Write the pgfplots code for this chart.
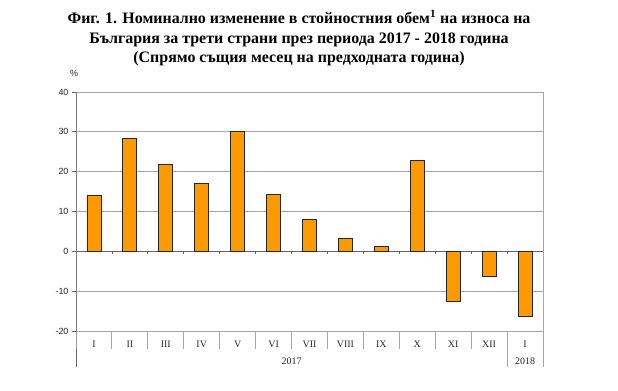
\documentclass[border=0pt]{standalone}
\usepackage{pgfplots}
\pgfplotsset{compat=1.18}
\usepackage{fontspec}
\setmainfont{Liberation Serif}
\setsansfont{Liberation Sans}
\definecolor{barorange}{HTML}{FF9900}
\definecolor{gridgray}{HTML}{A6A6A6}
\definecolor{axisgray}{HTML}{666666}
\definecolor{barline}{HTML}{262626}
\begin{document}
\begin{tikzpicture}[x=1bp,y=1bp]
\useasboundingbox (0,0) rectangle (618,390);
\node[anchor=base, font=\bfseries\fontsize{16}{18}\selectfont] at (299,366.5) {Фиг. 1. Номинално изменение в стойностния обем\textsuperscript{1} на износа на};
\node[anchor=base, font=\bfseries\fontsize{16}{18}\selectfont] at (299,346.8) {България за трети страни през периода 2017 - 2018 година};
\node[anchor=base, font=\bfseries\fontsize{16}{18}\selectfont] at (299,327.1) {(Спрямо същия месец на предходната година)};
\node[font=\sffamily\fontsize{9}{9}\selectfont, text=black!85] at (74,317) {\%};
\begin{axis}[
  at={(76bp,59bp)}, anchor=south west,
  scale only axis, width=467bp, height=239bp,
  xmin=0, xmax=13, ymin=-20, ymax=40,
  ytick={-20,-10,...,40},
  ymajorgrids,
  grid style={gridgray, line width=0.9bp},
  axis line style={gridgray, line width=0.9bp},
  xtick={0.5,1.5,...,12.5},
  xticklabels={I,II,III,IV,V,VI,VII,VIII,IX,X,XI,XII,I},
  x tick style={draw=none},
  y tick style={axisgray, line width=0.8bp},
  tick align=outside,
  major tick length=4bp,
  ytick pos=left, xtick pos=bottom,
  /pgf/number format/assume math mode=true,
  yticklabel style={font=\sffamily\fontsize{9}{9}\selectfont, text=black!85},
  xticklabel style={font=\fontsize{10}{10}\selectfont, text=black!85, yshift=-2bp},
  clip=false,
  ybar, bar width=14bp,
]
\draw[axisgray, line width=0.9bp] (axis cs:0,0) -- (axis cs:13,0);
\pgfplotsinvokeforeach{1,...,12}{
  \draw[axisgray, line width=0.8bp] (axis cs:#1,0) -- ([yshift=-3bp]axis cs:#1,0);
}
\pgfplotsinvokeforeach{1,...,11}{
  \draw[gridgray, line width=0.9bp] (axis cs:#1,-20) -- ([yshift=-18bp]axis cs:#1,-20);
}
\draw[gridgray, line width=0.9bp] (axis cs:12,-20) -- ([yshift=-36bp]axis cs:12,-20);
\draw[gridgray, line width=0.9bp] (axis cs:13,-20) -- ([yshift=-36bp]axis cs:13,-20);
\draw[axisgray, line width=0.9bp] (axis cs:0,40) -- (axis cs:0,-20) -- ([yshift=-36bp]axis cs:0,-20);
\addplot[fill=barorange, draw=barline, line width=0.9bp] coordinates {
 (0.5,14.0) (1.5,28.3) (2.5,21.9) (3.5,17.0) (4.5,30.2) (5.5,14.3) (6.5,7.9)
 (7.5,3.3) (8.5,1.3) (9.5,22.7) (10.5,-12.7) (11.5,-6.3) (12.5,-16.4)
};
\node[font=\fontsize{10}{10}\selectfont, text=black!85] at ([yshift=-30bp]axis cs:6,-20) {2017};
\node[font=\fontsize{10}{10}\selectfont, text=black!85] at ([yshift=-30bp]axis cs:12.5,-20) {2018};
\end{axis}
\end{tikzpicture}
\end{document}
